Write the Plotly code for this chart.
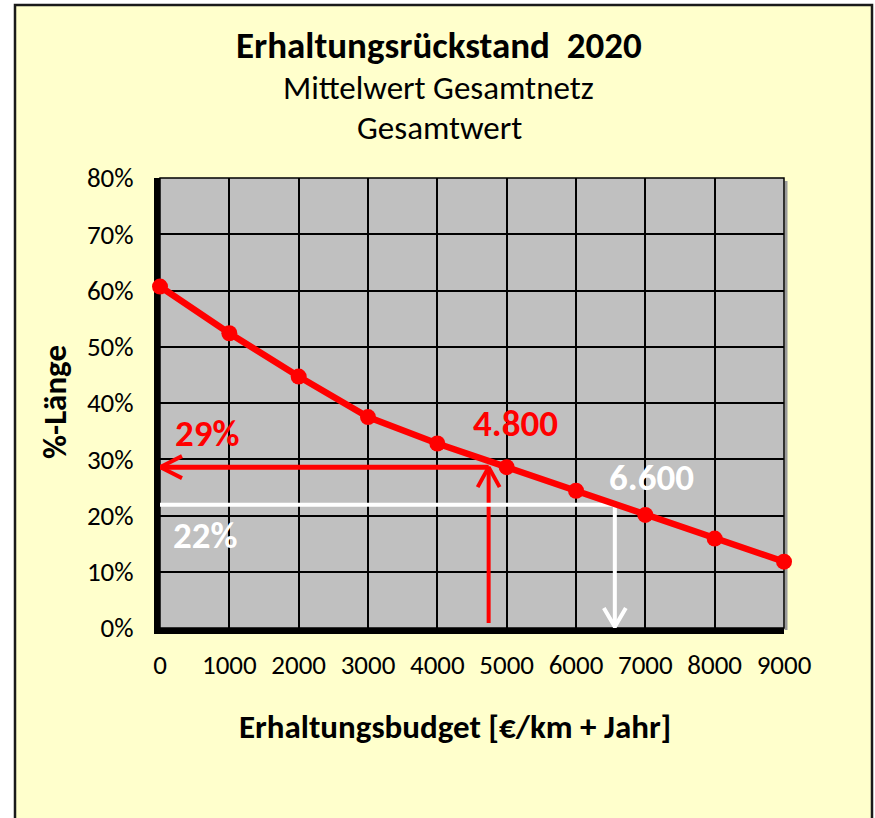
import plotly.graph_objects as go

# ---- data ----
budget = [0, 1000, 2000, 3000, 4000, 5000, 6000, 7000, 8000, 9000]
share = [0.607, 0.524, 0.447, 0.375, 0.328, 0.286, 0.244, 0.201, 0.159, 0.118]

x_ticks = [0, 1000, 2000, 3000, 4000, 5000, 6000, 7000, 8000, 9000]
y_ticks = [0, 0.1, 0.2, 0.3, 0.4, 0.5, 0.6, 0.7, 0.8]
y_tick_labels = ["0%", "10%", "20%", "30%", "40%", "50%", "60%", "70%", "80%"]

red_budget = 4740      # drawn position of the "4.800" arrow
red_share = 0.286      # "29%"
white_budget = 6560    # drawn position of the "6.600" arrow
white_share = 0.219    # "22%"
red_label_budget = "4.800"
red_label_share = "29%"
white_label_budget = "6.600"
white_label_share = "22%"

title = "Erhaltungsrückstand  2020"
subtitle1 = "Mittelwert Gesamtnetz"
subtitle2 = "Gesamtwert"
x_title = "Erhaltungsbudget [€/km + Jahr]"
y_title = "%-Länge"

FONT = "Carlito, Calibri, Lato, sans-serif"
RED = "#FF0000"

# plot geometry (pixels)
W, H = 875, 818
L, R, T, B = 160, 784, 178, 628
pw, ph = R - L, B - T
xmax, ymax = 9000, 0.8
ux = xmax / pw   # data units per px
uy = ymax / ph


def px_x(p):
    return (p - L) / pw


def px_y(p):
    return (B - p) / ph


fig = go.Figure()

# guide lines (red)
fig.add_trace(go.Scatter(x=[red_budget, red_budget], y=[0.009, red_share], mode="lines",
                         line=dict(color=RED, width=4), hoverinfo="skip", showlegend=False))
fig.add_trace(go.Scatter(x=[red_budget, 0], y=[red_share, red_share], mode="lines",
                         line=dict(color=RED, width=5), hoverinfo="skip", showlegend=False))
# chevrons red
fig.add_trace(go.Scatter(x=[22 * ux, 0, 22 * ux], y=[red_share + 11 * uy, red_share, red_share - 11 * uy],
                         mode="lines", line=dict(color=RED, width=4), hoverinfo="skip", showlegend=False))
fig.add_trace(go.Scatter(x=[red_budget - 11 * ux, red_budget, red_budget + 11 * ux],
                         y=[red_share - 20 * uy, red_share, red_share - 20 * uy],
                         mode="lines", line=dict(color=RED, width=4), hoverinfo="skip", showlegend=False))

# guide lines (white)
fig.add_trace(go.Scatter(x=[0, white_budget, white_budget], y=[white_share, white_share, 0.002], mode="lines",
                         line=dict(color="white", width=4), hoverinfo="skip", showlegend=False))
fig.add_trace(go.Scatter(x=[white_budget - 11 * ux, white_budget, white_budget + 11 * ux],
                         y=[20 * uy, 0.002, 20 * uy],
                         mode="lines", line=dict(color="white", width=4), hoverinfo="skip", showlegend=False))

# main curve
fig.add_trace(go.Scatter(x=budget, y=share, mode="lines+markers",
                         line=dict(color=RED, width=6.5),
                         marker=dict(color=RED, size=16),
                         cliponaxis=False, showlegend=False))


def ann(text, cx, cy, size, color="black", angle=0):
    return dict(text=text, x=px_x(cx), y=px_y(cy), xref="paper", yref="paper",
                xanchor="center", yanchor="middle", textangle=angle,
                showarrow=False, font=dict(size=size, color=color, family=FONT))


annotations = [
    ann("<b>" + title + "</b>", 439, 45, 37),
    ann(subtitle1, 438, 88, 33),
    ann(subtitle2, 439, 128, 33),
    ann("<b>" + x_title + "</b>", 455, 727, 33),
    ann("<b>" + y_title + "</b>", 55, 402, 33, angle=-90),
    ann("<b>" + red_label_share + "</b>", 207, 433, 37, RED),
    ann("<b>" + white_label_share + "</b>", 205, 535, 37, "white"),
    ann("<b>" + red_label_budget + "</b>", 515, 423, 37, RED),
    ann("<b>" + white_label_budget + "</b>", 651, 477, 37, "white"),
]

shapes = [
    # white strips outside the yellow frame
    dict(type="rect", xref="paper", yref="paper", x0=px_x(-5), x1=px_x(15), y0=px_y(H + 5), y1=px_y(-5),
         fillcolor="white", line=dict(width=0), layer="above"),
    dict(type="rect", xref="paper", yref="paper", x0=px_x(-5), x1=px_x(W + 5), y0=px_y(5), y1=px_y(-5),
         fillcolor="white", line=dict(width=0), layer="above"),
    dict(type="rect", xref="paper", yref="paper", x0=px_x(872), x1=px_x(W + 5), y0=px_y(H + 5), y1=px_y(-5),
         fillcolor="white", line=dict(width=0), layer="above"),
    # frame
    dict(type="rect", xref="paper", yref="paper", x0=px_x(15), x1=px_x(872), y0=px_y(H + 10), y1=px_y(5),
         fillcolor="rgba(0,0,0,0)", line=dict(color="#1a1a1a", width=2.5), layer="above"),
    # shadow on right of plot area
    dict(type="line", xref="paper", yref="paper", x0=px_x(R + 2), x1=px_x(R + 2), y0=px_y(B + 2), y1=px_y(T + 3),
         line=dict(color="#9a9a9a", width=3), layer="below"),
    # thin plot frame
    dict(type="rect", xref="x domain", yref="y domain", x0=0, x1=1, y0=0, y1=1,
         line=dict(color="black", width=1.5), layer="below"),
]

fig.update_layout(
    width=W, height=H,
    margin=dict(l=L, r=W - R, t=T, b=H - B, pad=0),
    paper_bgcolor="#FFFFCC",
    plot_bgcolor="#C0C0C0",
    font=dict(family=FONT, color="black"),
    annotations=annotations,
    shapes=shapes,
    showlegend=False,
)
fig.update_xaxes(range=[0, xmax], tickvals=x_ticks, ticktext=[str(v) for v in x_ticks],
                 showgrid=True, gridcolor="black", gridwidth=1.5,
                 showline=True, linecolor="black", linewidth=6, layer="below traces",
                 ticks="", ticklabelstandoff=8, tickfont=dict(size=27, family=FONT),
                 zeroline=False, fixedrange=True)
fig.update_yaxes(range=[0, ymax], tickvals=y_ticks, ticktext=y_tick_labels,
                 showgrid=True, gridcolor="black", gridwidth=1.5,
                 showline=True, linecolor="black", linewidth=6, layer="below traces",
                 ticks="", ticklabelstandoff=15, tickfont=dict(size=27, family=FONT),
                 zeroline=False, fixedrange=True)

fig.write_html("out.html", config={"displayModeBar": False},
               post_script="document.body.style.margin='0';document.body.style.overflow='hidden';")
